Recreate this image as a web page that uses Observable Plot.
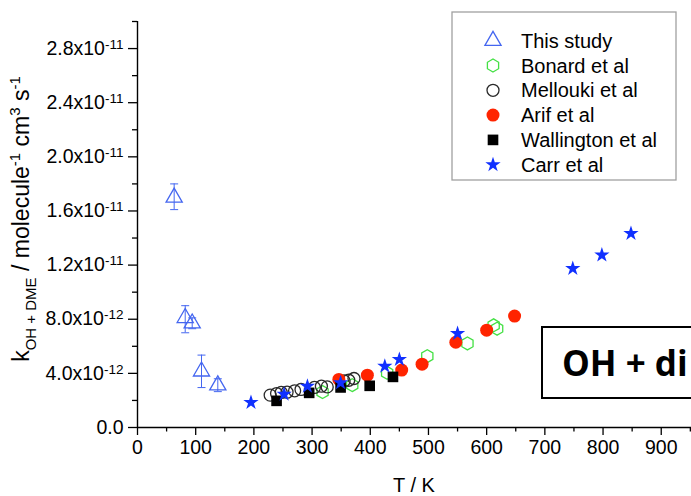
<!DOCTYPE html>
<html>
<head>
<meta charset="utf-8">
<script src="https://cdn.jsdelivr.net/npm/d3@7"></script>
<script src="https://cdn.jsdelivr.net/npm/@observablehq/plot@0.6"></script>
<style>
  html, body { margin: 0; padding: 0; background: #fff; overflow: hidden; }
  #chart { position: relative; width: 691px; height: 496px; overflow: hidden; }
  #chart svg { display: block; }
</style>
</head>
<body>
<div id="chart"></div>
<script>
// OH + dimethyl ether rate coefficients, k in units of 1e-12 cm^3 molecule^-1 s^-1, against T in K
const seriesNames = ["This study", "Bonard et al", "Mellouki et al", "Arif et al", "Wallington et al", "Carr et al"];

const thisStudyT    = [63, 82, 94, 110, 138];
const thisStudyK    = [17.0, 8.1, 7.7, 4.15, 3.13];
const thisStudyLow  = [16.1, 7.0, 7.3, 2.95, 2.65];
const thisStudyHigh = [18.0, 9.0, 8.1, 5.35, 3.6];

const bonardT = [318, 369, 429, 498, 567, 612, 618];
const bonardK = [2.62, 3.13, 4.04, 5.27, 6.21, 7.55, 7.3];

const melloukiT = [228, 239, 247, 257, 270, 281, 304, 316, 326, 355, 363, 372];
const melloukiK = [2.39, 2.51, 2.59, 2.61, 2.71, 2.81, 2.96, 3.05, 3.0, 3.44, 3.49, 3.62];

const arifT = [346, 395, 454, 489, 547, 600, 648];
const arifK = [3.55, 3.87, 4.24, 4.68, 6.3, 7.19, 8.23];

const wallingtonT = [239, 295, 349, 399, 439];
const wallingtonK = [1.97, 2.56, 2.96, 3.08, 3.74];

const carrT = [195, 252, 292, 349, 425, 450, 550, 748, 798, 848];
const carrK = [1.85, 2.46, 3.05, 3.30, 4.53, 5.03, 6.95, 11.75, 12.74, 14.34];

// Axis ticks
const xMajorTicks = [0, 100, 200, 300, 400, 500, 600, 700, 800, 900];
const xMinorTicks = [50, 150, 250, 350, 450, 550, 650, 750, 850, 950];
const yMajorTicks = [0, 4, 8, 12, 16, 20, 24, 28];
const yMinorTicks = [2, 6, 10, 14, 18, 22, 26, 30];
const yTickMantissas = ["0.0", "4.0x10", "8.0x10", "1.2x10", "1.6x10", "2.0x10", "2.4x10", "2.8x10"];
const yTickExponents = ["", "-12", "-12", "-11", "-11", "-11", "-11", "-11"];

// Build row tables from the arrays
const rows = (T, K) => T.map((t, i) => ({T: t, k: K[i]}));
const thisStudy = thisStudyT.map((t, i) => ({T: t, k: thisStudyK[i], lo: thisStudyLow[i], hi: thisStudyHigh[i]}));
const bonard = rows(bonardT, bonardK);
const mellouki = rows(melloukiT, melloukiK);
const arif = rows(arifT, arifK);
const wallington = rows(wallingtonT, wallingtonK);
const carr = rows(carrT, carrK);

// Pointy-top hexagon (same geometry as Plot's built-in hexagon)
const hexagon = {
  draw(context, size) {
    const rx = Math.sqrt(size / Math.PI), ry = rx * 2 / Math.sqrt(3), hy = ry / 2;
    context.moveTo(0, ry); context.lineTo(rx, hy); context.lineTo(rx, -hy);
    context.lineTo(0, -ry); context.lineTo(-rx, -hy); context.lineTo(-rx, hy);
    context.closePath();
  }
};
// Horizontal cap for error bars
const cap = {
  draw(context, size) {
    const w = Math.sqrt(size / Math.PI);
    context.moveTo(-w, 0); context.lineTo(w, 0);
  }
};

const styles = [
  {symbol: d3.symbolTriangle, r: 6,   fill: "none", stroke: "#4466f0", strokeWidth: 1.3},
  {symbol: hexagon,            r: 5.6, fill: "none", stroke: "#44e044", strokeWidth: 1.3},
  {symbol: d3.symbolCircle,    r: 6,   fill: "none", stroke: "#2a2a2a", strokeWidth: 1.3},
  {symbol: d3.symbolCircle,    r: 6.5, fill: "#ff2400", stroke: "none", strokeWidth: 0},
  {symbol: d3.symbolSquare,    r: 6,   fill: "#000",    stroke: "none", strokeWidth: 0},
  {symbol: d3.symbolStar,      r: 4.8, fill: "#1030ff", stroke: "none", strokeWidth: 0}
];
const datasets = [thisStudy, bonard, mellouki, arif, wallington, carr];

const dotMarks = datasets.map((data, i) =>
  Plot.dot(data, {x: "T", y: "k", ...styles[i]})
);

const plot = Plot.plot({
  width: 691,
  height: 496,
  marginLeft: 137,
  marginRight: 0,
  marginTop: 21,
  marginBottom: 69,
  style: {fontFamily: "'Liberation Sans', Arial, sans-serif", fontSize: "19.5px", color: "#000", background: "#fff"},
  x: {domain: [0, 952]},
  y: {domain: [0, 30]},
  marks: [
    Plot.axisX(xMajorTicks, {tickSize: 8, tickPadding: 5, strokeWidth: 1.3, label: null, tickFormat: d => String(d)}),
    Plot.axisX(xMinorTicks, {tickSize: 4.5, strokeWidth: 1.3, label: null, tickFormat: () => ""}),
    Plot.axisY(yMajorTicks, {tickSize: 9, tickPadding: 5, strokeWidth: 1.3, label: null,
      tickFormat: d => { const i = yMajorTicks.indexOf(d); return yTickMantissas[i] + (yTickExponents[i] ? "^" + yTickExponents[i] : ""); }}),
    Plot.axisY(yMinorTicks, {tickSize: 5, strokeWidth: 1.3, label: null, tickFormat: () => ""}),
    Plot.ruleY([0], {strokeWidth: 1.4}),
    Plot.ruleX([0], {strokeWidth: 1.4}),
    // error bars for this study
    Plot.ruleX(thisStudy, {x: "T", y1: "lo", y2: "hi", stroke: "#4466f0", strokeWidth: 1}),
    Plot.dot(thisStudy, {x: "T", y: "lo", symbol: cap, r: 4, stroke: "#4466f0", strokeWidth: 1, fill: "none"}),
    Plot.dot(thisStudy, {x: "T", y: "hi", symbol: cap, r: 4, stroke: "#4466f0", strokeWidth: 1, fill: "none"}),
    ...dotMarks
  ]
});

document.getElementById("chart").appendChild(plot);
const svg = d3.select(plot);

// Superscript exponents on the y tick labels
svg.selectAll('g[aria-label="y-axis tick label"] text').each(function () {
  const el = d3.select(this);
  const [base, exp] = el.text().split("^");
  el.text(null);
  el.append("tspan").text(base);
  if (exp) el.append("tspan").attr("dy", "-0.45em").style("font-size", "13.5px").text(exp);
});

// Axis titles
const yTitle = svg.append("text")
  .attr("transform", "translate(29,219) rotate(-90)")
  .attr("text-anchor", "middle")
  .style("font-size", "23px")
  .attr("fill", "#000");
const parts = [
  ["k", 0, 23], ["OH + DME", 7, 15], [" / molecule", -7, 23], ["-1", -9, 15],
  [" cm", 9, 23], ["3", -9, 15], [" s", 9, 23], ["-1", -9, 15]
];
parts.forEach(([t, dy, fs]) => yTitle.append("tspan").attr("dy", dy).style("font-size", fs + "px").text(t));

svg.append("text")
  .attr("x", 414).attr("y", 492)
  .attr("text-anchor", "middle")
  .style("font-size", "20px")
  .attr("fill", "#000")
  .text("T / K");

// Legend
const legend = svg.append("g").attr("text-anchor", "start");
legend.append("rect")
  .attr("x", 452).attr("y", 12).attr("width", 224).attr("height", 168)
  .attr("fill", "#fff").attr("stroke", "#a0a0a0").attr("stroke-width", 1.3);
seriesNames.forEach((name, i) => {
  const cy = 40.7 + i * 24.8;
  const s = styles[i];
  legend.append("path")
    .attr("transform", `translate(493,${cy})`)
    .attr("d", d3.symbol(s.symbol, Math.PI * s.r * s.r)())
    .attr("fill", s.fill).attr("stroke", s.stroke).attr("stroke-width", s.strokeWidth);
  legend.append("text")
    .attr("x", 521).attr("y", cy + 7)
    .style("font-size", "20px").attr("fill", "#000")
    .text(name);
});

// Reaction label box
const box = svg.append("g").attr("text-anchor", "start");
box.append("rect")
  .attr("x", 542).attr("y", 327).attr("width", 170).attr("height", 71)
  .attr("fill", "#fff").attr("stroke", "#000").attr("stroke-width", 2);
box.append("text")
  .attr("x", 562).attr("y", 376)
  .style("font-family", "'Open Sans', sans-serif")
  .style("font-weight", "700").style("font-size", "35px")
  .attr("fill", "#000")
  .text("OH + di");
</script>
</body>
</html>
